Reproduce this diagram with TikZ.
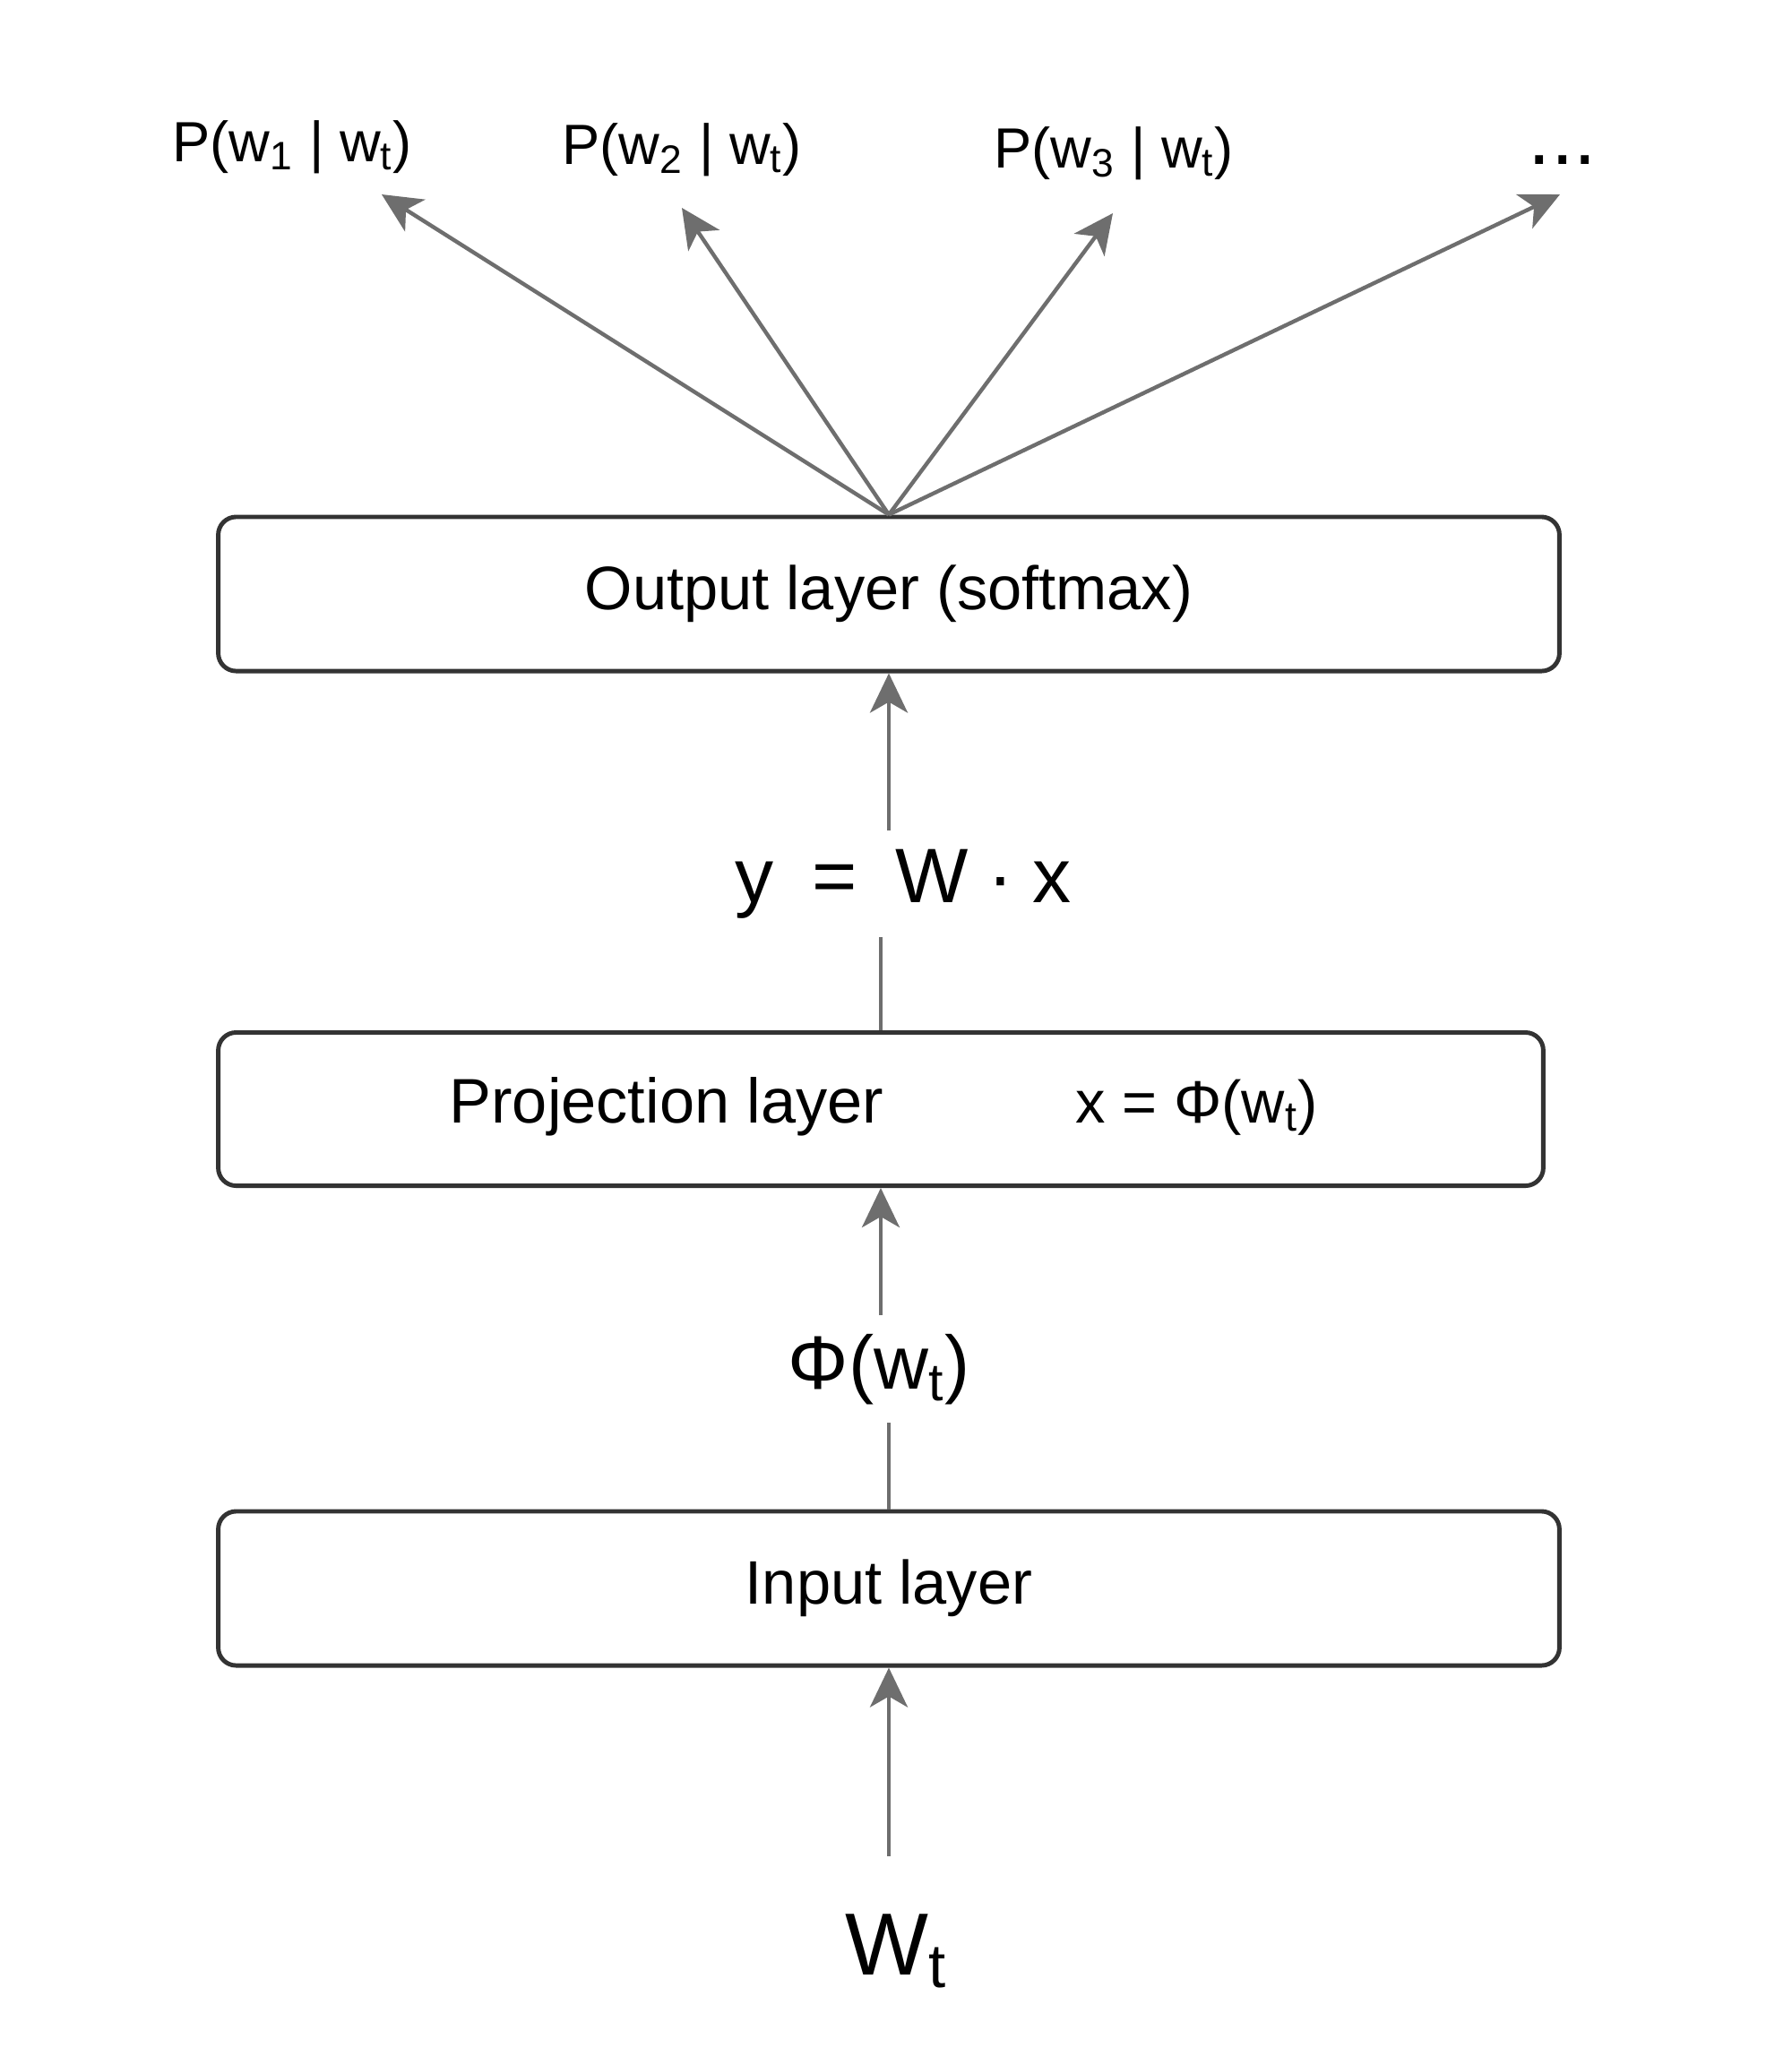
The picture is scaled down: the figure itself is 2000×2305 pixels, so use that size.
\documentclass[tikz,border=0pt]{standalone}
\usepackage{fontspec}
\setmainfont{Liberation Sans}
\usetikzlibrary{arrows.meta, positioning}
\definecolor{linegray}{HTML}{6E6E6E}
\definecolor{boxgray}{HTML}{333333}
\tikzset{
  layer/.style={draw=boxgray, line width=1.4pt, rounded corners=0.2cm,
                inner sep=0pt, font=\fontsize{19.5}{23}\selectfont},
  conn/.style={draw=linegray, line width=1.25pt},
  arr/.style={conn, -{Stealth[length=0.44cm, width=0.42cm, inset=0.12cm]}},
  prob/.style={anchor=base, font=\fontsize{18}{22}\selectfont},
  lbl/.style={anchor=base, inner sep=0.2cm, font=\fontsize{24}{28}\selectfont}
}

\begin{document}
\begin{tikzpicture}[x=0.01cm, y=-0.01cm]
\useasboundingbox (0,0) rectangle (2000,2305);
%
% layers
\node[layer, minimum width=14.96cm, minimum height=1.72cm] (out) at (992,663) {Output layer (softmax)};
\node[layer, minimum width=14.78cm, minimum height=1.71cm] (proj) at (983,1238) {};
\node[layer, minimum width=14.96cm, minimum height=1.72cm] (inp) at (992,1773) {Input layer};
\node[anchor=base, font=\fontsize{20}{24}\selectfont] (projname) at (744,1253) {Projection layer};
\node[anchor=base, font=\fontsize{19}{23}\selectfont] (projeq) at (1336,1253) {x = Φ(w\textsubscript{t})};
%
% labels
\node[prob] (p1) at (326,180) {P(w\textsubscript{1} | w\textsubscript{t})};
\node[prob] (p2) at (761,183) {P(w\textsubscript{2} | w\textsubscript{t})};
\node[prob] (p3) at (1243,187) {P(w\textsubscript{3} | w\textsubscript{t})};
\node[prob, font=\fontsize{26}{30}\selectfont] (dots) at (1744,183) {...};
\node[lbl, font=\fontsize{24.5}{29}\selectfont] (eq) at (1008,1007) {y\hspace{0.5em}=\hspace{0.5em}W\hspace{0.25em}·\hspace{0.25em}x};
\node[lbl] (phi) at (981,1550) {Φ(w\textsubscript{t})};
\node[lbl, font=\fontsize{28}{32}\selectfont] (wt) at (1000,2204) {W\textsubscript{t}};
%
% arrow tips of the fan
\coordinate (t1) at (426,217);
\coordinate (t2) at (761,232);
\coordinate (t3) at (1242,238);
\coordinate (t4) at (1741,217);
\foreach \t in {t1,t2,t3,t4}
  \draw[arr] (out.north) -- (\t);
%
\draw[arr] (out.south |- eq.north) -- (out.south);
\draw[conn] (proj.north) -- (proj.north |- eq.south);
\draw[arr] (proj.south |- phi.north) -- (proj.south);
\draw[conn] (inp.north) -- (inp.north |- phi.south);
\draw[arr, shorten <=0.44cm] (inp.south |- wt.north) -- (inp.south);
\end{tikzpicture}
\end{document}
